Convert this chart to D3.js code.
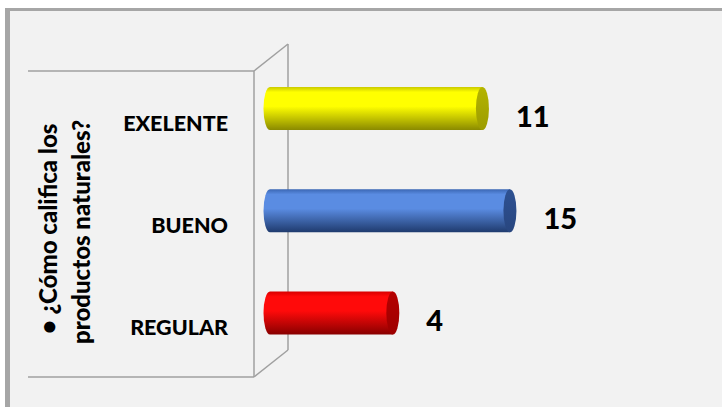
<!DOCTYPE html>
<meta charset="utf-8">
<script src="https://d3js.org/d3.v7.min.js"></script>
<style>
  body { margin: 0; background: #fff; }
  text { font-family: Lato, "Open Sans", sans-serif; font-weight: 900; fill: #000; }
</style>
<div id="chart"></div>
<script>

// data
var categories = ["EXELENTE", "BUENO", "REGULAR"];
var values = [11, 15, 4];
var titleLines = ["\u2022 \u00bfC\u00f3mo califica los", "productos naturales?"];

var W = 722, H = 407;

// colours per bar: [top edge, highlight, bottom, cap]
var palette = [
  ["#caca00", "#ffff00", "#8a8a00", "#b4b400"],
  ["#3b67b4", "#5a8ce2", "#1f3b6e", "#2e5192"],
  ["#d80000", "#ff0a0a", "#880000", "#b50000"]
];

var svg = d3.select("#chart").append("svg")
  .attr("width", W)
  .attr("height", H);

// frame
svg.append("rect").attr("x", 5).attr("y", 8).attr("width", W).attr("height", H)
  .attr("fill", "#a6a6a6");
svg.append("rect").attr("x", 10).attr("y", 11).attr("width", W).attr("height", H)
  .attr("fill", "#f2f2f2");

// scales (the value axis is logarithmic in the original)
var x = d3.scaleLog()
  .domain([1, 100])
  .range([270, 678]);

var y = d3.scaleBand()
  .domain(categories)
  .range([57.4, 364.1])
  .paddingInner(0.58)
  .paddingOuter(0.29);

// 3D walls
var back = {x: 288, top: 44, bottom: 350};
var depth = {dx: -34, dy: 27};
var front = {x: back.x + depth.dx, top: back.top + depth.dy, bottom: back.bottom + depth.dy};
var wallColor = "#a0a0a0";
var walls = svg.append("g").attr("stroke", wallColor).attr("stroke-width", 1.5).attr("fill", "none");
walls.append("line").attr("x1", back.x).attr("x2", back.x).attr("y1", back.top).attr("y2", back.bottom);
walls.append("line").attr("x1", front.x).attr("x2", front.x).attr("y1", front.top).attr("y2", front.bottom);
walls.append("line").attr("x1", front.x).attr("y1", front.top).attr("x2", back.x).attr("y2", back.top);
walls.append("line").attr("x1", front.x).attr("y1", front.bottom).attr("x2", back.x).attr("y2", back.bottom);
walls.append("line").attr("x1", 28).attr("x2", front.x).attr("y1", front.top).attr("y2", front.top);
walls.append("line").attr("x1", 28).attr("x2", front.x).attr("y1", front.bottom).attr("y2", front.bottom);

// gradients
var defs = svg.append("defs");
palette.forEach(function(p, i) {
  var g = defs.append("linearGradient").attr("id", "body" + i)
    .attr("x1", 0).attr("y1", 0).attr("x2", 0).attr("y2", 1);
  g.append("stop").attr("offset", "0%").attr("stop-color", p[0]);
  g.append("stop").attr("offset", "12%").attr("stop-color", p[1]);
  g.append("stop").attr("offset", "45%").attr("stop-color", p[1]);
  g.append("stop").attr("offset", "100%").attr("stop-color", p[2]);
  var c = defs.append("linearGradient").attr("id", "cap" + i)
    .attr("x1", 0).attr("y1", 0).attr("x2", 0).attr("y2", 1);
  c.append("stop").attr("offset", "0%").attr("stop-color", p[3]);
  c.append("stop").attr("offset", "100%").attr("stop-color", d3.color(p[3]).darker(0.4));
});

// cylinders
var rx = 6.5;
var bars = svg.selectAll(".bar")
  .data(categories)
  .enter().append("g")
  .attr("class", "bar");

bars.append("path")
  .attr("fill", function(d, i) { return "url(#body" + i + ")"; })
  .attr("d", function(d, i) {
    var x0 = x(1), x1 = x(values[i]);
    var y0 = y(d), y1 = y(d) + y.bandwidth(), ry = y.bandwidth() / 2;
    return "M" + x1 + "," + y0 + "L" + x0 + "," + y0 +
      "A" + rx + "," + ry + " 0 0 0 " + x0 + "," + y1 +
      "L" + x1 + "," + y1 + "Z";
  });

bars.append("ellipse")
  .attr("cx", function(d, i) { return x(values[i]); })
  .attr("cy", function(d) { return y(d) + y.bandwidth() / 2; })
  .attr("rx", rx)
  .attr("ry", y.bandwidth() / 2)
  .attr("fill", function(d, i) { return "url(#cap" + i + ")"; });

// value labels
bars.append("text")
  .attr("x", function(d, i) { return x(values[i]) + rx + 27; })
  .attr("y", function(d) { return y(d) + y.bandwidth() / 2 + 18; })
  .style("font-size", "29px")
  .text(function(d, i) { return values[i]; });

// category labels
svg.selectAll(".cat")
  .data(categories)
  .enter().append("text")
  .attr("class", "cat")
  .attr("x", 228)
  .attr("y", function(d) { return y(d) + y.bandwidth() / 2 + 22; })
  .attr("text-anchor", "end")
  .style("font-size", "21.5px")
  .text(function(d) { return d; });

// axis title (rotated, two lines)
var titlePos = [[57, 334], [90, 344]];
svg.selectAll(".title")
  .data(titleLines)
  .enter().append("text")
  .attr("class", "title")
  .attr("transform", function(d, i) {
    return "translate(" + titlePos[i][0] + "," + titlePos[i][1] + ") rotate(-90)";
  })
  .style("font-size", "24px")
  .text(function(d) { return d; });

</script>
